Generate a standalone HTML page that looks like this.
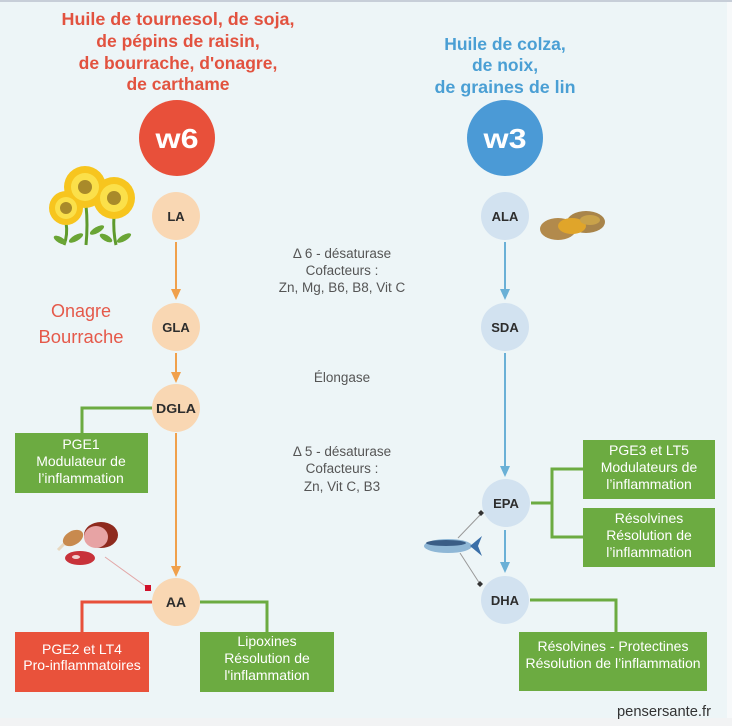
<!DOCTYPE html>
<html><head><meta charset="utf-8"><style>
html,body{margin:0;padding:0;background:#f2f3f4;}
svg{display:block;}
text{font-family:"Liberation Sans",Arial,sans-serif;}
</style></head><body>
<svg width="732" height="726" viewBox="0 0 732 726" xmlns="http://www.w3.org/2000/svg">
<rect x="0" y="0" width="732" height="726" fill="#f2f3f4"/>
<rect x="0" y="0" width="727" height="718" fill="#edf5f7"/>
<rect x="727" y="0" width="5" height="718" fill="#f7f9fa"/>
<rect x="0" y="0" width="732" height="2" fill="#c7ced8"/>

<!-- titles -->
<g font-weight="bold" font-size="17.5" fill="#e2523f" text-anchor="middle">
<text x="178" y="25" textLength="233" lengthAdjust="spacingAndGlyphs">Huile de tournesol, de soja,</text>
<text x="178" y="47">de pépins de raisin,</text>
<text x="178" y="69">de bourrache, d'onagre,</text>
<text x="178" y="90">de carthame</text>
</g>
<g font-weight="bold" font-size="17.5" fill="#4a9fd4" text-anchor="middle">
<text x="505" y="50">Huile de colza,</text>
<text x="505" y="71">de noix,</text>
<text x="505" y="93" textLength="141" lengthAdjust="spacingAndGlyphs">de graines de lin</text>
</g>

<!-- w6 / w3 -->
<circle cx="177" cy="138" r="38" fill="#e8503a"/>
<text x="177" y="148" font-size="28" font-weight="bold" fill="#fff" text-anchor="middle" textLength="43" lengthAdjust="spacingAndGlyphs">w6</text>
<circle cx="505" cy="138" r="38" fill="#4b9ad6"/>
<text x="505" y="148" font-size="28" font-weight="bold" fill="#fff" text-anchor="middle" textLength="43" lengthAdjust="spacingAndGlyphs">w3</text>

<!-- orange arrows -->
<g stroke="#f0a04b" stroke-width="2">
<line x1="176" y1="242" x2="176" y2="292"/>
<line x1="176" y1="353" x2="176" y2="376"/>
<line x1="176" y1="433" x2="176" y2="570"/>
</g>
<g fill="#f0a04b">
<polygon points="171,289 181,289 176,300"/>
<polygon points="171,372 181,372 176,383"/>
<polygon points="171,566 181,566 176,577"/>
</g>
<!-- blue arrows -->
<g stroke="#6ab0d6" stroke-width="2">
<line x1="505" y1="242" x2="505" y2="292"/>
<line x1="505" y1="353" x2="505" y2="470"/>
<line x1="505" y1="530" x2="505" y2="566"/>
</g>
<g fill="#6ab0d6">
<polygon points="500,289 510,289 505,300"/>
<polygon points="500,466 510,466 505,477"/>
<polygon points="500,562 510,562 505,573"/>
</g>

<!-- connectors -->
<g fill="none" stroke-width="3">
<polyline stroke="#6cab41" points="152,408 82,408 82,433"/>
<polyline stroke="#e8503a" points="152,602 82,602 82,632"/>
<polyline stroke="#6cab41" points="200,602 267,602 267,632"/>
<polyline stroke="#6cab41" points="531,503 552,503"/>
<polyline stroke="#6cab41" points="583,469 552,469 552,537 583,537"/>
<polyline stroke="#6cab41" points="530,600 616,600 616,632"/>
</g>

<!-- nodes -->
<g fill="#f9d7b3">
<circle cx="176" cy="216" r="24"/>
<circle cx="176" cy="327" r="24"/>
<circle cx="176" cy="408" r="24"/>
<circle cx="176" cy="602" r="24"/>
</g>
<g fill="#d2e2f0">
<circle cx="505" cy="216" r="24"/>
<circle cx="505" cy="327" r="24"/>
<circle cx="506" cy="503" r="24"/>
<circle cx="505" cy="600" r="24"/>
</g>
<g font-weight="bold" fill="#2d2d2d" text-anchor="middle" font-size="13">
<text x="176" y="221">LA</text>
<text x="176" y="332">GLA</text>
<text x="176" y="413" textLength="40" lengthAdjust="spacingAndGlyphs">DGLA</text>
<text x="176" y="607" font-size="14">AA</text>
<text x="505" y="221">ALA</text>
<text x="505" y="332">SDA</text>
<text x="506" y="508">EPA</text>
<text x="505" y="605">DHA</text>
</g>

<!-- middle labels -->
<g font-size="13.5" fill="#555" text-anchor="middle">
<text x="342" y="258">Δ 6 - désaturase</text>
<text x="342" y="275">Cofacteurs :</text>
<text x="342" y="292">Zn, Mg, B6, B8, Vit C</text>
<text x="342" y="382">Élongase</text>
<text x="342" y="456">Δ 5 - désaturase</text>
<text x="342" y="473">Cofacteurs :</text>
<text x="342" y="491">Zn, Vit C, B3</text>
</g>

<!-- Onagre Bourrache -->
<g font-size="18" fill="#e5594a" text-anchor="middle">
<text x="81" y="317">Onagre</text>
<text x="81" y="343" textLength="85" lengthAdjust="spacingAndGlyphs">Bourrache</text>
</g>

<!-- boxes -->
<rect x="15" y="433" width="133" height="60" fill="#6cab41"/>
<rect x="15" y="632" width="134" height="60" fill="#e9523b"/>
<rect x="200" y="632" width="134" height="60" fill="#6cab41"/>
<rect x="583" y="440" width="132" height="59" fill="#6cab41"/>
<rect x="583" y="508" width="132" height="59" fill="#6cab41"/>
<rect x="519" y="632" width="188" height="59" fill="#6cab41"/>
<g font-size="14" fill="#fff" text-anchor="middle">
<text x="81" y="449">PGE1</text>
<text x="81" y="466">Modulateur de</text>
<text x="81" y="483">l’inflammation</text>
<text x="82" y="654">PGE2 et  LT4</text>
<text x="82" y="670">Pro-inflammatoires</text>
<text x="267" y="646">Lipoxines</text>
<text x="267" y="663">Résolution de</text>
<text x="267" y="680">l'inflammation</text>
<text x="649" y="455">PGE3 et LT5</text>
<text x="649" y="472">Modulateurs de</text>
<text x="649" y="489">l’inflammation</text>
<text x="649" y="523">Résolvines</text>
<text x="649" y="540">Résolution de</text>
<text x="649" y="557">l’inflammation</text>
<text x="613" y="651">Résolvines - Protectines</text>
<text x="613" y="668">Résolution de l’inflammation</text>
</g>

<text x="711" y="716" font-size="14.5" fill="#333" text-anchor="end" textLength="94" lengthAdjust="spacingAndGlyphs">pensersante.fr</text>

<!-- sunflowers -->
<g>
<g stroke="#5e9a2c" stroke-width="3" fill="none">
<path d="M86 205 Q88 225 86 245"/>
<path d="M66 222 Q68 235 64 245"/>
<path d="M114 215 Q113 232 116 245"/>
</g>
<g fill="#6aa535">
<ellipse cx="76" cy="238" rx="8" ry="3" transform="rotate(-30 76 238)"/>
<ellipse cx="97" cy="230" rx="8" ry="3" transform="rotate(-30 97 230)"/>
<ellipse cx="60" cy="240" rx="7" ry="3" transform="rotate(30 60 240)"/>
<ellipse cx="124" cy="238" rx="8" ry="3" transform="rotate(-30 124 238)"/>
<ellipse cx="106" cy="238" rx="7" ry="3" transform="rotate(30 106 238)"/>
</g>
<g fill="#f7c51e">
<circle cx="85" cy="187" r="21"/>
<circle cx="114" cy="198" r="21"/>
<circle cx="66" cy="208" r="17"/>
</g>
<g fill="#fbe04a">
<circle cx="85" cy="187" r="14"/>
<circle cx="114" cy="198" r="14"/>
<circle cx="66" cy="208" r="11"/>
</g>
<g fill="#a98a2a">
<circle cx="85" cy="187" r="7"/>
<circle cx="114" cy="198" r="7"/>
<circle cx="66" cy="208" r="6"/>
</g>
</g>

<!-- walnut -->
<g>
<ellipse cx="558" cy="229" rx="18" ry="11" fill="#b28a4c"/>
<ellipse cx="586" cy="222" rx="19" ry="11" fill="#a8844a"/>
<ellipse cx="572" cy="226" rx="14" ry="8" fill="#e0a52a"/>
<ellipse cx="590" cy="220" rx="10" ry="5" fill="#c9a24a"/>
</g>

<!-- meat -->
<g>
<ellipse cx="73" cy="538" rx="11" ry="7" fill="#c88a4e" transform="rotate(-30 73 538)"/>
<line x1="64" y1="544" x2="58" y2="550" stroke="#e8d8c0" stroke-width="3"/>
<ellipse cx="101" cy="535" rx="17" ry="13" fill="#8e2a1e"/>
<ellipse cx="96" cy="537" rx="12" ry="11" fill="#e7a3a4"/>
<ellipse cx="80" cy="558" rx="15" ry="7" fill="#c8323a"/>
<ellipse cx="76" cy="557" rx="4" ry="2" fill="#f0d0d0"/>
<line x1="105" y1="557" x2="148" y2="588" stroke="#e2a7a7" stroke-width="1"/>
<rect x="145" y="585" width="6" height="6" fill="#d0102a"/>
</g>

<!-- fish -->
<g>
<line x1="481" y1="514" x2="458" y2="538" stroke="#999" stroke-width="1"/>
<line x1="480" y1="584" x2="460" y2="553" stroke="#999" stroke-width="1"/>
<ellipse cx="448" cy="546" rx="24" ry="7" fill="#8fb7d6"/>
<ellipse cx="446" cy="543" rx="20" ry="3" fill="#3a5d86"/>
<polygon points="470,546 482,536 478,546 482,556" fill="#3a6fa8"/>
<polygon points="481,510 484,513 481,516 478,513" fill="#333"/>
<polygon points="480,581 483,584 480,587 477,584" fill="#333"/>
</g>
</svg>
</body></html>
